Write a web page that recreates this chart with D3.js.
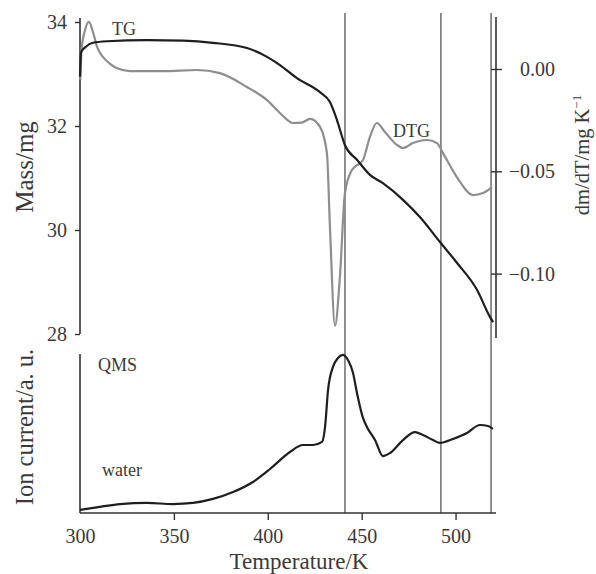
<!DOCTYPE html>
<html>
<head>
  <meta charset="utf-8">
  <script src="https://cdnjs.cloudflare.com/ajax/libs/d3/7.8.5/d3.min.js"></script>
  <title>TG / DTG / QMS</title>
  <style>
    body { margin: 0; background: #fff; }
    text { font-family: "Liberation Serif", "DejaVu Serif", serif; fill: #3a3a3a; }
  </style>
</head>
<body>
<script>
// TG curve, mass in mg
var tgTemp = [300, 300.6, 303, 306.9, 314.4, 335.7, 355, 370.8, 388.9, 399.6, 406.5, 415.5, 427.8, 433.1, 436.8, 441.1, 447.5, 454.4, 461.3, 472, 481, 491.7, 500.7, 511.4, 518.3, 520];
var tgMass = [32.95, 33.42, 33.52, 33.60, 33.63, 33.65, 33.64, 33.60, 33.50, 33.33, 33.17, 32.92, 32.65, 32.46, 32.12, 31.63, 31.35, 31.06, 30.90, 30.58, 30.25, 29.77, 29.37, 28.85, 28.33, 28.23];

// DTG curve, dm/dT in mg/K
var dtgTemp = [300.2, 300.8, 302.7, 304.8, 306.9, 309.1, 312.2, 315.5, 319.5, 326.6, 344.2, 362.3, 374.5, 388.9, 399.6, 406.5, 413.4, 418, 422.5, 427.8, 431.5, 433.1, 435.8, 438.4, 441.1, 444.8, 450.7, 454.4, 458.1, 462.4, 468.8, 472, 477.3, 484.8, 490.1, 493.3, 500.7, 509.3, 514.6, 519.4];
var dtgVal = [-0.0054, 0.0093, 0.0191, 0.0230, 0.0181, 0.0108, 0.0059, 0.0029, 0.0005, -0.0010, -0.0010, -0.0005, -0.0020, -0.0088, -0.0152, -0.0215, -0.0264, -0.0262, -0.0244, -0.0283, -0.0411, -0.0772, -0.1255, -0.1017, -0.0606, -0.0494, -0.0445, -0.0332, -0.0264, -0.0308, -0.0371, -0.0386, -0.0362, -0.0347, -0.0362, -0.0411, -0.0528, -0.0616, -0.0606, -0.0577];

// QMS water signal, arbitrary units
var qmsTemp = [300, 310.6, 321.3, 335.7, 349.5, 360.2, 370.8, 381.5, 392.1, 401.2, 411.8, 418.7, 424.1, 428.9, 430.5, 432.1, 434.7, 437.4, 440, 442.7, 445.4, 447.5, 450.7, 452.8, 457.1, 461.3, 465.1, 472, 478.4, 482.6, 488, 491.7, 498.6, 506.1, 513, 517.3, 519.9];
var qmsVal = [1.9, 3.8, 5.6, 6.3, 5.6, 6.3, 8.8, 13.1, 19.4, 27.5, 38.1, 42.5, 42.5, 44.4, 53.8, 76.9, 91.3, 96.9, 98.8, 95.6, 87.5, 75, 59.4, 53.8, 45.6, 35.6, 37.5, 45.6, 50.6, 48.8, 45.6, 43.8, 46.3, 50, 55, 54.4, 52.5];

var markerTemps = [441.1, 492.2, 518.9];
var tempTicks = [300, 350, 400, 450, 500];
var massTicks = [34, 32, 30, 28];
var dtgTicks = [0, -0.05, -0.10];

var W = 596, H = 574;
var svg = d3.select("body").append("svg").attr("width", W).attr("height", H);

var x = d3.scaleLinear().domain([300, 521]).range([80, 495]);
var yMass = d3.scaleLinear().domain([34, 28]).range([22, 334]);
var yDtg = d3.scaleLinear().domain([0, -0.10]).range([69, 273.6]);
var yQms = d3.scaleLinear().domain([0, 100]).range([513, 353]);

var axisColor = "#333";

// vertical marker lines
svg.selectAll("line.marker").data(markerTemps).enter().append("line")
  .attr("class", "marker")
  .attr("x1", function(d) { return x(d); }).attr("x2", function(d) { return x(d); })
  .attr("y1", 13).attr("y2", 513)
  .attr("stroke", "#555").attr("stroke-width", 1.3);

// left mass axis
var gMass = svg.append("g").attr("transform", "translate(80,0)")
  .call(d3.axisLeft(yMass).tickValues(massTicks).tickSize(5).tickPadding(8).tickFormat(d3.format("d")));
gMass.select(".domain").remove();
svg.append("line").attr("x1", 80).attr("x2", 80).attr("y1", 18).attr("y2", 334)
  .attr("stroke", axisColor).attr("stroke-width", 1.6);

// right dtg axis
var gDtg = svg.append("g").attr("transform", "translate(496,0)")
  .call(d3.axisRight(yDtg).tickValues(dtgTicks).tickSize(6).tickPadding(0)
    .tickFormat(function(d) { return d3.format(".2f")(d).replace("-", "\u2212"); }));
gDtg.select(".domain").remove();
gDtg.selectAll(".tick line").attr("x1", -5);
gDtg.selectAll(".tick text").attr("text-anchor", "end").attr("x", 59);
svg.append("line").attr("x1", 496).attr("x2", 496).attr("y1", 17).attr("y2", 338)
  .attr("stroke", axisColor).attr("stroke-width", 1.6);

// bottom temperature axis
var gT = svg.append("g").attr("transform", "translate(0,513)")
  .call(d3.axisBottom(x).tickValues(tempTicks).tickSize(7).tickPadding(9));
gT.select(".domain").remove();
gT.selectAll(".tick").filter(function(d) { return d === 300; }).select("line").remove();
svg.append("line").attr("x1", 80).attr("x2", 496).attr("y1", 513).attr("y2", 513)
  .attr("stroke", axisColor).attr("stroke-width", 1.6);
svg.append("line").attr("x1", 80).attr("x2", 80).attr("y1", 354).attr("y2", 513)
  .attr("stroke", axisColor).attr("stroke-width", 1.6);

svg.selectAll(".tick line").attr("stroke", axisColor).attr("stroke-width", 1.4);
svg.selectAll(".tick text").attr("font-size", 20).attr("fill", "#3a3a3a")
  .attr("font-family", "Liberation Serif, serif");

// curves
var tgLine = d3.line().curve(d3.curveMonotoneX)
  .x(function(d) { return x(d[0]); }).y(function(d) { return yMass(d[1]); });
var dtgLine = d3.line().curve(d3.curveMonotoneX)
  .x(function(d) { return x(d[0]); }).y(function(d) { return yDtg(d[1]); });
var qmsLine = d3.line().curve(d3.curveMonotoneX)
  .x(function(d) { return x(d[0]); }).y(function(d) { return yQms(d[1]); });

svg.append("path").datum(d3.zip(dtgTemp, dtgVal)).attr("d", dtgLine)
  .attr("fill", "none").attr("stroke", "#8e8e8e").attr("stroke-width", 2.2);
svg.append("path").datum(d3.zip(tgTemp, tgMass)).attr("d", tgLine)
  .attr("fill", "none").attr("stroke", "#1e1e1e").attr("stroke-width", 2.2);
svg.append("path").datum(d3.zip(qmsTemp, qmsVal)).attr("d", qmsLine)
  .attr("fill", "none").attr("stroke", "#1e1e1e").attr("stroke-width", 2.2);

// curve labels
function label(txt, px, py) {
  return svg.append("text").attr("x", px).attr("y", py).attr("font-size", 18).text(txt);
}
label("TG", 112, 35);
label("DTG", 393, 137);
label("QMS", 98, 371);
label("water", 102, 476);

// axis titles
svg.append("text").attr("x", 299).attr("y", 569).attr("text-anchor", "middle")
  .attr("font-size", 23).text("Temperature/K");
svg.append("text").attr("transform", "translate(33,167) rotate(-90)")
  .attr("text-anchor", "middle").attr("font-size", 25).text("Mass/mg");
svg.append("text").attr("transform", "translate(33,427) rotate(-90)")
  .attr("text-anchor", "middle").attr("font-size", 24.5).text("Ion current/a. u.");
var rt = svg.append("text").attr("transform", "translate(589,155) rotate(-90)")
  .attr("text-anchor", "middle").attr("font-size", 20.5);
rt.append("tspan").text("dm/dT/mg K");
rt.append("tspan").attr("dy", -8).attr("font-size", 13).text("\u22121");
</script>
</body>
</html>
